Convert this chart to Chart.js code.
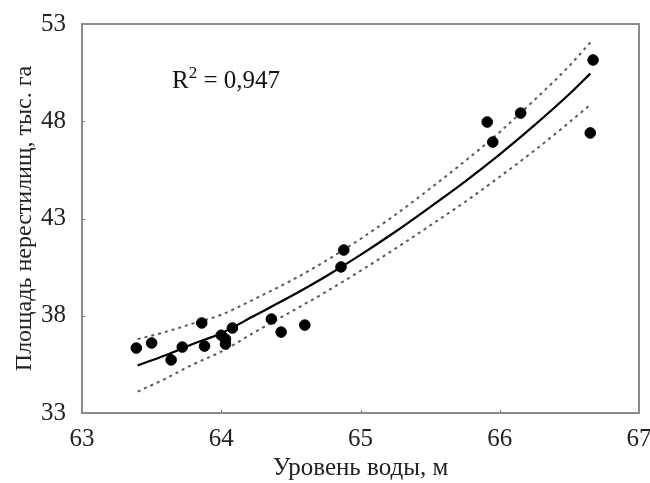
<!DOCTYPE html>
<html>
<head>
<meta charset="utf-8">
<script src="https://cdn.jsdelivr.net/npm/chart.js@4.4.1/dist/chart.umd.min.js"></script>
<style>
  html, body { margin: 0; padding: 0; background: #fff; }
  canvas { display: block; }
</style>
</head>
<body>
<canvas id="myChart" width="650" height="483"></canvas>
<script>
// observed points: water level (m) vs spawning area (thousand ha)
const levelObs = [63.39, 63.50, 63.64, 63.72, 63.86, 63.88, 64.00, 64.03, 64.03, 64.08,
                  64.36, 64.43, 64.60, 64.86, 64.88, 65.91, 65.95, 66.15, 66.67, 66.65];
const areaObs  = [36.34, 36.60, 35.73, 36.39, 37.63, 36.44, 37.00, 36.80, 36.55, 37.37,
                  37.83, 37.16, 37.52, 40.51, 41.38, 47.96, 46.93, 48.42, 51.15, 47.40];

// regression curve and confidence band
const fitX     = [63.4, 63.6, 63.8, 64.0, 64.25, 64.5, 64.75, 65.0, 65.25, 65.5, 65.75, 66.0, 66.25, 66.5, 66.65];
const fitY     = [35.45, 35.97, 36.56, 37.10, 38.05, 39.00, 40.02, 41.13, 42.32, 43.59, 44.90, 46.30, 47.80, 49.40, 50.45];
const upperY   = [36.80, 37.17, 37.61, 38.05, 38.90, 39.80, 40.82, 41.95, 43.19, 44.54, 45.95, 47.45, 49.10, 50.85, 52.05];
const lowerY   = [34.10, 34.77, 35.51, 36.15, 37.20, 38.20, 39.22, 40.31, 41.45, 42.64, 43.85, 45.15, 46.50, 47.95, 48.85];

const xTicks = [63, 64, 65, 66, 67];
const yTicks = [33, 38, 43, 48, 53];
const r2Text = '0,947';

const FONT = '"Liberation Serif", "Times New Roman", serif';
const pts = (xs, ys) => xs.map((x, i) => ({ x: x, y: ys[i] }));

// little inward ticks, frame and R² label
const decor = {
  id: 'decor',
  afterDraw(chart) {
    const c = chart.ctx, a = chart.chartArea;
    const sx = chart.scales.x, sy = chart.scales.y;
    c.save();
    c.strokeStyle = '#777';
    c.lineWidth = 1;
    xTicks.slice(1, -1).forEach(v => {
      const px = Math.round(sx.getPixelForValue(v)) + 0.5;
      c.beginPath(); c.moveTo(px, a.bottom); c.lineTo(px, a.bottom - 3); c.stroke();
    });
    yTicks.slice(1, -1).forEach(v => {
      const py = Math.round(sy.getPixelForValue(v)) + 0.5;
      c.beginPath(); c.moveTo(a.left, py); c.lineTo(a.left + 3, py); c.stroke();
    });
    c.strokeStyle = '#8a8a8a';
    c.lineWidth = 2;
    c.strokeRect(a.left, a.top, a.right - a.left, a.bottom - a.top);

    c.fillStyle = '#111';
    c.textBaseline = 'alphabetic';
    c.font = '25px ' + FONT;
    let x0 = 172, y0 = 88;
    c.fillText('R', x0, y0);
    x0 += c.measureText('R').width;
    c.font = '17px ' + FONT;
    c.fillText('2', x0, y0 - 10);
    x0 += c.measureText('2').width;
    c.font = '25px ' + FONT;
    c.fillText(' = ' + r2Text, x0, y0);
    c.restore();
  }
};

let ctx = document.getElementById('myChart');
document.myChart = new Chart(ctx, {
  type: 'scatter',
  data: {
    datasets: [
      {
        data: pts(levelObs, areaObs),
        backgroundColor: '#000',
        borderColor: '#000',
        pointRadius: 5.3,
        pointHoverRadius: 5.3,
        order: 0
      },
      {
        type: 'line',
        data: pts(fitX, fitY),
        borderColor: '#000',
        borderWidth: 2.2,
        pointRadius: 0,
        cubicInterpolationMode: 'monotone',
        fill: false,
        order: 1
      },
      {
        type: 'line',
        data: pts(fitX, upperY),
        borderColor: '#5a5a5a',
        borderWidth: 2,
        borderDash: [3, 4],
        pointRadius: 0,
        cubicInterpolationMode: 'monotone',
        fill: false,
        order: 2
      },
      {
        type: 'line',
        data: pts(fitX, lowerY),
        borderColor: '#5a5a5a',
        borderWidth: 2,
        borderDash: [3, 4],
        pointRadius: 0,
        cubicInterpolationMode: 'monotone',
        fill: false,
        order: 2
      }
    ]
  },
  options: {
    responsive: false,
    animation: false,
    layout: { padding: { left: 0, right: 11, top: 24, bottom: 0 } },
    scales: {
      x: {
        type: 'linear',
        min: 63, max: 67,
        afterBuildTicks: s => { s.ticks = xTicks.map(v => ({ value: v })); },
        afterFit: s => { s.height = 70; s.paddingLeft = 0; s.paddingRight = 0; },
        border: { display: false },
        grid: { display: false },
        ticks: {
          color: '#222',
          font: { family: FONT, size: 25 },
          padding: 3,
          maxRotation: 0
        },
        title: {
          display: true,
          text: 'Уровень воды, м',
          color: '#222',
          font: { family: FONT, size: 25 },
          padding: { top: 2, bottom: 0 }
        }
      },
      y: {
        min: 33, max: 53,
        afterBuildTicks: s => { s.ticks = yTicks.map(v => ({ value: v })); },
        afterFit: s => { s.width = 82; s.paddingTop = 0; s.paddingBottom = 0; },
        border: { display: false },
        grid: { display: false },
        ticks: {
          color: '#222',
          font: { family: FONT, size: 25 },
          padding: 8
        },
        title: {
          display: true,
          text: 'Площадь нерестилищ, тыс. га',
          color: '#222',
          font: { family: FONT, size: 24 },
          padding: { top: 10, bottom: 4 }
        }
      }
    },
    plugins: {
      legend: { display: false },
      tooltip: { enabled: false }
    }
  },
  plugins: [decor]
});
</script>
</body>
</html>
